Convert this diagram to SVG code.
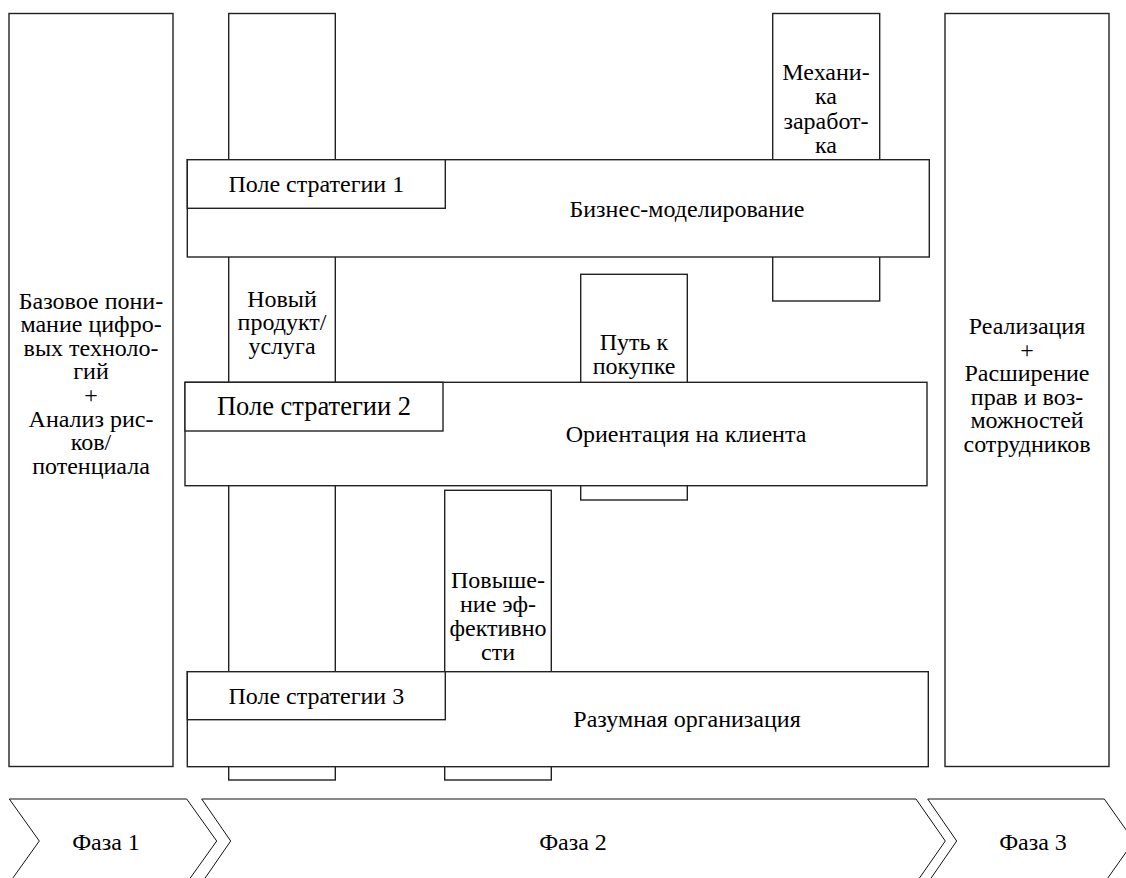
<svg xmlns="http://www.w3.org/2000/svg" width="1126" height="878" viewBox="0 0 1126 878" font-family="'Liberation Serif','Times New Roman',serif">
<style>
.box{fill:#fff;stroke:#222;stroke-width:1.4}
.chev{fill:#fff;stroke:#111;stroke-width:1}
text{font-family:"Liberation Serif","Times New Roman",serif;font-size:24px;fill:#000;text-anchor:middle}
.big{font-size:26.5px}
</style>
<rect width="1126" height="878" fill="#fff"/>
<g id="phase1-box">
<rect class="box" x="9" y="13.5" width="164" height="753"/>
<text x="91" y="308.5">Базовое пони-</text>
<text x="91" y="332.1">мание цифро-</text>
<text x="91" y="355.7">вых техноло-</text>
<text x="91" y="379.3">гий</text>
<text x="91" y="402.9">+</text>
<text x="91" y="426.5">Анализ рис-</text>
<text x="91" y="450.1">ков/</text>
<text x="91" y="473.7">потенциала</text>
</g>
<g id="phase3-box">
<rect class="box" x="945" y="13.5" width="164" height="753"/>
<text x="1027" y="334">Реализация</text>
<text x="1027" y="357.6">+</text>
<text x="1027" y="381.2">Расширение</text>
<text x="1027" y="404.8">прав и воз-</text>
<text x="1027" y="428.4">можностей</text>
<text x="1027" y="452">сотрудников</text>
</g>
<g id="col-product">
<rect class="box" x="228.7" y="13.5" width="106.6" height="766.5"/>
<text x="282" y="306.5">Новый</text>
<text x="282" y="330.1">продукт/</text>
<text x="282" y="353.7">услуга</text>
</g>
<g id="col-revenue">
<rect class="box" x="772.7" y="13.5" width="107" height="287.5"/>
<text x="826" y="79.5">Механи-</text>
<text x="826" y="104">ка</text>
<text x="826" y="128.5">заработ-</text>
<text x="826" y="153">ка</text>
</g>
<g id="col-journey">
<rect class="box" x="580.7" y="274.3" width="106.6" height="225.7"/>
<text x="634" y="350">Путь к</text>
<text x="634" y="373.6">покупке</text>
</g>
<g id="col-efficiency">
<rect class="box" x="444.7" y="490.3" width="106.6" height="289.7"/>
<text x="498" y="587.5">Повыше-</text>
<text x="498" y="611.5">ние эф-</text>
<text x="498" y="635.5">фективно</text>
<text x="498" y="659.5">сти</text>
</g>
<g id="band1">
<rect class="box" x="187.3" y="159.7" width="742" height="97.3"/>
<rect class="box" x="187.3" y="159.7" width="258" height="48.6"/>
<text x="316.3" y="191.5">Поле стратегии 1</text>
<text x="687" y="216.5">Бизнес-моделирование</text>
</g>
<g id="band2">
<rect class="box" x="185" y="382.3" width="742" height="103.4"/>
<rect class="box" x="185" y="382.3" width="258" height="48.7"/>
<text class="big" x="314" y="415">Поле стратегии 2</text>
<text x="686" y="441.5">Ориентация на клиента</text>
</g>
<g id="band3">
<rect class="box" x="187.3" y="671.7" width="741" height="95"/>
<rect class="box" x="187.3" y="671.7" width="258" height="48"/>
<text x="316.3" y="703.5">Поле стратегии 3</text>
<text x="687" y="727">Разумная организация</text>
</g>
<g id="connectors"></g>
<g id="phase1">
<path class="chev" d="M9.3,799 L186.7,799 L216.7,841 L186.7,883 L9.3,883 L39.3,841 Z"/>
<text x="106" y="849.5">Фаза 1</text>
</g>
<g id="phase2">
<path class="chev" d="M201.7,799 L916,799 L945.3,841 L916,883 L201.7,883 L230.7,841 Z"/>
<text x="573" y="849.5">Фаза 2</text>
</g>
<g id="phase3">
<path class="chev" d="M927.7,799 L1104.3,799 L1134,841 L1104.3,883 L927.7,883 L956.7,841 Z"/>
<text x="1033" y="849.5">Фаза 3</text>
</g>
</svg>
